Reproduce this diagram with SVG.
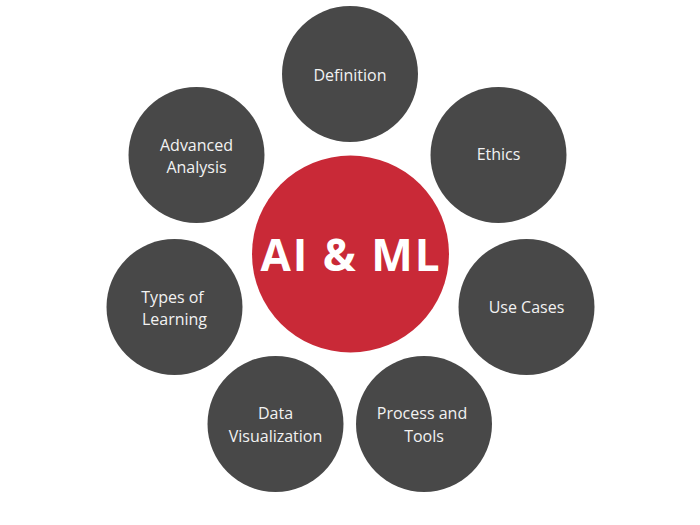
<svg xmlns="http://www.w3.org/2000/svg" width="700" height="525" viewBox="0 0 700 525">
<style>
.n{fill:#484848}
.t{font-family:"Open Sans","Noto Sans",sans-serif;font-size:16px;fill:#f2f2f2;text-anchor:middle}
.c{fill:#c92937}
.ct{font-family:"Open Sans","Noto Sans",sans-serif;font-size:44px;font-weight:bold;fill:#ffffff;text-anchor:middle;letter-spacing:2px}
</style>
<rect width="700" height="525" fill="#ffffff"/>
<g id="connectors"></g>
<g id="center"><circle class="c" cx="350.5" cy="254" r="98.5"/><text class="ct" x="351" y="271">AI &amp; ML</text></g>
<g id="definition"><circle class="n" cx="350" cy="74" r="68"/><text class="t" x="350" y="81">Definition</text></g>
<g id="ethics"><circle class="n" cx="498.5" cy="155" r="68"/><text class="t" x="498.5" y="160">Ethics</text></g>
<g id="use-cases"><circle class="n" cx="526.5" cy="307" r="68"/><text class="t" x="526.5" y="313">Use Cases</text></g>
<g id="process-tools"><circle class="n" cx="424" cy="424" r="68"/><text class="t" x="422" y="419">Process and</text><text class="t" x="424" y="442">Tools</text></g>
<g id="data-visualization"><circle class="n" cx="275.5" cy="424" r="68"/><text class="t" x="275.5" y="419">Data</text><text class="t" x="275.5" y="442">Visualization</text></g>
<g id="types-learning"><circle class="n" cx="174.5" cy="307" r="68"/><text class="t" x="172.5" y="303">Types of</text><text class="t" x="174.5" y="325">Learning</text></g>
<g id="advanced-analysis"><circle class="n" cx="196.5" cy="155" r="68"/><text class="t" x="196.5" y="151">Advanced</text><text class="t" x="196.5" y="173">Analysis</text></g>
</svg>
